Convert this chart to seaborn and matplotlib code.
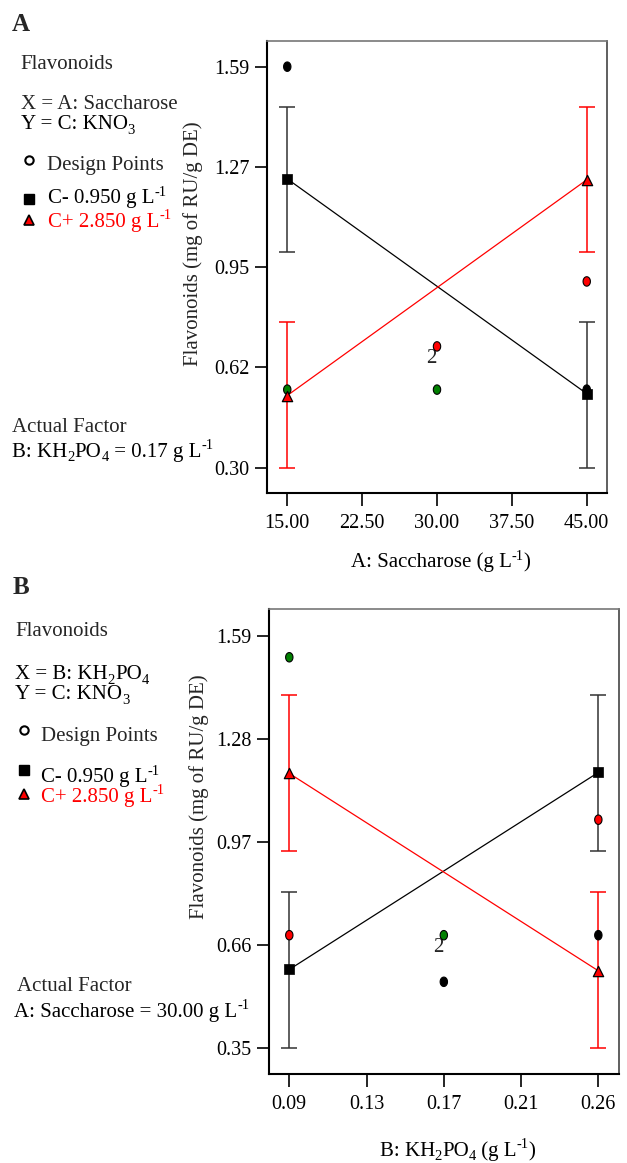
import numpy as np
import pandas as pd
import matplotlib
matplotlib.use("Agg")
import matplotlib.pyplot as plt
from matplotlib.path import Path
import seaborn as sns

# ---------------- data ----------------
# Panel A: X = A: Saccharose, series by C: KNO3
A_x_levels = [15.0, 45.0]
A_cminus_mean = [1.229, 0.538]
A_cminus_low = [0.994, 0.300]
A_cminus_high = [1.461, 0.768]
A_cplus_mean = [0.532, 1.226]
A_cplus_low = [0.300, 0.994]
A_cplus_high = [0.768, 1.461]
A_design_x = [15, 15, 30, 30, 45, 45]
A_design_y = [1.590, 0.551, 0.690, 0.551, 0.899, 0.551]
A_design_col = ["black", "green", "red", "green", "red", "black"]
A_xticks = [15.0, 22.5, 30.0, 37.5, 45.0]
A_xticklabels = ["15.00", "22.50", "30.00", "37.50", "45.00"]
A_yticks = [0.30, 0.6225, 0.945, 1.2675, 1.59]
A_yticklabels = ["0.30", "0.62", "0.95", "1.27", "1.59"]

# Panel B: X = B: KH2PO4, series by C: KNO3
B_x_levels = [0.085, 0.255]
B_cminus_mean = [0.587, 1.179]
B_cminus_low = [0.350, 0.943]
B_cminus_high = [0.821, 1.412]
B_cplus_mean = [1.176, 0.583]
B_cplus_low = [0.943, 0.350]
B_cplus_high = [1.412, 0.819]
B_design_x = [0.085, 0.085, 0.17, 0.17, 0.255, 0.255]
B_design_y = [1.525, 0.690, 0.690, 0.550, 1.037, 0.690]
B_design_col = ["green", "red", "green", "black", "red", "black"]
B_xticks = [0.085, 0.1275, 0.17, 0.2125, 0.255]
B_xticklabels = ["0.09", "0.13", "0.17", "0.21", "0.26"]
B_yticks = [0.35, 0.66, 0.97, 1.28, 1.59]
B_yticklabels = ["0.35", "0.66", "0.97", "1.28", "1.59"]

# ---------------- style ----------------
sns.set_style("ticks")
plt.rcParams["font.family"] = ["Liberation Serif", "DejaVu Serif"]

W, H = 627, 1163
fig = plt.figure(figsize=(W / 100, H / 100), dpi=100)
renderer = fig.canvas.get_renderer()

t = np.linspace(0, 2 * np.pi, 60)
ellipse = Path(np.column_stack([0.78 * np.cos(t), np.sin(t)]), closed=True)

TICK_FS = 14.5
TXT_FS = 15
SMALL_FS = 10.5
ERR_BLACK = "#333333"


def style_axes(ax, xlim, ylim, xticks, xtl, yticks, ytl):
    ax.set_xlim(*xlim)
    ax.set_ylim(*ylim)
    ax.set_xticks(xticks)
    ax.set_xticklabels(xtl, fontsize=TICK_FS)
    ax.set_yticks(yticks)
    ax.set_yticklabels(ytl, fontsize=TICK_FS)
    ax.tick_params(axis="x", direction="out", length=9, width=1.2, pad=6, colors="black")
    ax.tick_params(axis="y", direction="out", length=9, width=1.2, pad=4, colors="black")
    for s in ["left", "bottom"]:
        ax.spines[s].set_linewidth(1.5)
        ax.spines[s].set_color("black")
    ax.spines["top"].set_linewidth(1.2)
    ax.spines["top"].set_color("#777777")
    ax.spines["right"].set_linewidth(1.2)
    ax.spines["right"].set_color("#444444")
    ax.set_xlabel("")
    ax.set_ylabel("")


def draw_panel(ax, xl, cm, cml, cmh, cp, cpl, cph, dx, dy, dcol):
    df = pd.DataFrame({
        "x": list(xl) + list(xl),
        "y": list(cm) + list(cp),
        "series": ["C-"] * len(xl) + ["C+"] * len(xl),
    })
    sns.lineplot(data=df, x="x", y="y", hue="series",
                 palette={"C-": "black", "C+": "red"}, linewidth=0.9,
                 legend=False, ax=ax, zorder=2)
    cm_a, cp_a = np.array(cm), np.array(cp)
    ax.errorbar(xl, cm, yerr=[cm_a - np.array(cml), np.array(cmh) - cm_a],
                fmt="none", ecolor=ERR_BLACK, elinewidth=1.1, capsize=5.5,
                capthick=1.1, zorder=3)
    ax.errorbar(xl, cp, yerr=[cp_a - np.array(cpl), np.array(cph) - cp_a],
                fmt="none", ecolor="red", elinewidth=1.1, capsize=5.5,
                capthick=1.1, zorder=3)
    dd = pd.DataFrame({"x": dx, "y": dy, "c": dcol})
    sns.scatterplot(data=dd, x="x", y="y", hue="c",
                    palette={"black": "black", "green": "#008000", "red": "#ff0000"},
                    marker=ellipse, s=46, edgecolor="black", linewidth=0.8,
                    legend=False, ax=ax, zorder=5)
    sns.scatterplot(x=xl, y=cm, marker="s", color="black", s=42,
                    edgecolor="black", linewidth=0.5, ax=ax, zorder=6, legend=False)
    sns.scatterplot(x=xl, y=cp, marker="^", color="red", s=55,
                    edgecolor="black", linewidth=0.9, ax=ax, zorder=6, legend=False)


# ---------------- panel A ----------------
axA = fig.add_axes([267.3 / W, 1 - 493.3 / H, (606.7 - 267.3) / W, (493.3 - 41) / H])
draw_panel(axA, A_x_levels, A_cminus_mean, A_cminus_low, A_cminus_high,
           A_cplus_mean, A_cplus_low, A_cplus_high,
           A_design_x, A_design_y, A_design_col)
style_axes(axA, (13.0, 47.0), (0.2174, 1.6726), A_xticks, A_xticklabels,
           A_yticks, A_yticklabels)
axA.annotate("2", xy=(30, 0.690), xytext=(-0.5, -2), textcoords="offset points",
             ha="right", va="top", fontsize=TXT_FS)

# ---------------- panel B ----------------
axB = fig.add_axes([269.3 / W, 1 - 1074 / H, (618.7 - 269.3) / W, (1074 - 609) / H])
draw_panel(axB, B_x_levels, B_cminus_mean, B_cminus_low, B_cminus_high,
           B_cplus_mean, B_cplus_low, B_cplus_high,
           B_design_x, B_design_y, B_design_col)
style_axes(axB, (0.074, 0.2662), (0.273, 1.670), B_xticks, B_xticklabels,
           B_yticks, B_yticklabels)
axB.annotate("2", xy=(0.17, 0.690), xytext=(-0.5, -2), textcoords="offset points",
             ha="right", va="top", fontsize=TXT_FS)

# ---------------- overlay for annotations (1 unit = 1 pixel) ----------------
ov = fig.add_axes([0, 0, 1, 1], zorder=-1)
ov.set_xlim(0, W)
ov.set_ylim(H, 0)
ov.axis("off")


def seg_width(s, fs, weight="normal"):
    tt = ov.text(0, 0, s, fontsize=fs, fontweight=weight)
    w = tt.get_window_extent(renderer).width
    tt.remove()
    return w


def R(x, y, parts, ha="left", color="black", fs=TXT_FS, weight="normal"):
    """Draw rich text: parts is a list of (text, kind) where kind is
    'n' normal, 'b' subscript, 'p' superscript. y is the baseline in pixels."""
    spec = []
    for s, k in parts:
        f = fs if k == "n" else SMALL_FS
        dy = 0 if k == "n" else (4.5 if k == "b" else -7.5)
        spec.append((s, f, dy, seg_width(s, f, weight)))
    total = sum(p[3] for p in spec)
    cx = x - total / 2 if ha == "center" else x
    for s, f, dy, w in spec:
        ov.text(cx, y + dy, s, fontsize=f, fontweight=weight, color=color,
                va="baseline", ha="left")
        cx += w


def T(x, y, s, **kw):
    kw.setdefault("fontsize", TXT_FS)
    kw.setdefault("va", "baseline")
    kw.setdefault("ha", "left")
    ov.text(x, y, s, **kw)


# Panel A texts
T(12, 31, "A", fontsize=18, fontweight="bold")
T(20.7, 69, "Flavonoids")
T(20.7, 109, "X = A: Saccharose")
R(20.7, 129.3, [("Y = C: KNO", "n"), ("3", "b")])
ov.plot([29], [160], marker="o", ms=6, mfc="white", mec="black", mew=1.5, ls="none")
T(46.7, 170, "Design Points")
ov.plot([29.3], [199], marker="s", ms=6.5, mfc="black", mec="black", ls="none")
R(47.7, 203.3, [("C- 0.950 g L", "n"), ("-1", "p")])
ov.plot([29.3], [220], marker="^", ms=7.5, mfc="red", mec="black", mew=1.2, ls="none")
R(47.7, 226.7, [("C+ 2.850 g L", "n"), ("-1", "p")], color="red")
T(12.3, 431.7, "Actual Factor")
R(12.3, 456.7, [("B: KH", "n"), ("2", "b"), ("PO", "n"), ("4", "b"),
                (" = 0.17 g L", "n"), ("-1", "p")])
T(193, 244, "Flavonoids (mg of RU/g DE)", rotation=90, ha="center", va="center")
R(440.7, 567.3, [("A: Saccharose (g L", "n"), ("-1", "p"), (")", "n")], ha="center")
R(473.7, 61.7, [("C: KNO", "n"), ("3", "b"), (" (g L", "n"), ("-1", "p"), (")", "n")],
  ha="center")

# Panel B texts
T(12.3, 594, "B", fontsize=18, fontweight="bold")
T(15, 636, "Flavonoids")
R(15, 679, [("X = B: KH", "n"), ("2", "b"), ("PO", "n"), ("4", "b")])
R(15, 699.3, [("Y = C: KNO", "n"), ("3", "b")])
ov.plot([24], [730], marker="o", ms=6, mfc="white", mec="black", mew=1.5, ls="none")
T(40.7, 740.7, "Design Points")
ov.plot([24], [770], marker="s", ms=6.5, mfc="black", mec="black", ls="none")
R(40.7, 782.3, [("C- 0.950 g L", "n"), ("-1", "p")])
ov.plot([24], [794], marker="^", ms=7.5, mfc="red", mec="black", mew=1.2, ls="none")
R(40.7, 801.7, [("C+ 2.850 g L", "n"), ("-1", "p")], color="red")
T(17.3, 990.7, "Actual Factor")
R(14, 1016.7, [("A: Saccharose = 30.00 g L", "n"), ("-1", "p")])
T(199, 797, "Flavonoids (mg of RU/g DE)", rotation=90, ha="center", va="center")
R(457.6, 1156, [("B: KH", "n"), ("2", "b"), ("PO", "n"), ("4", "b"),
                (" (g L", "n"), ("-1", "p"), (")", "n")], ha="center")
R(462.8, 635, [("C: KNO", "n"), ("3", "b"), (" (g L", "n"), ("-1", "p"), (")", "n")],
  ha="center")

fig.savefig("out.png", dpi=100)
